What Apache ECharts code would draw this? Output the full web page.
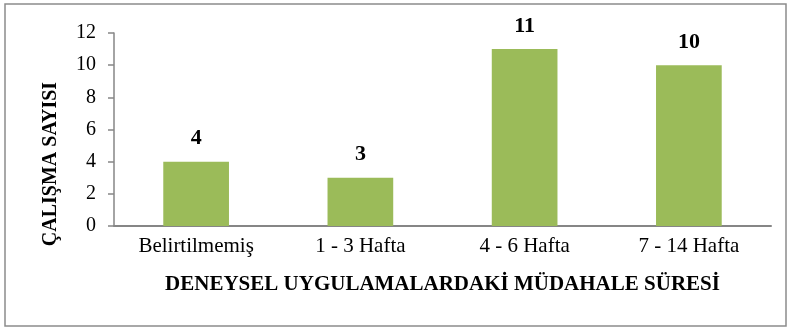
<!DOCTYPE html>
<html>
<head>
<meta charset="utf-8">
<script src="https://cdn.jsdelivr.net/npm/echarts@6/dist/echarts.min.js"></script>
<style>
  html, body { margin: 0; padding: 0; background: #fff; }
  #chart { width: 791px; height: 329px; }
</style>
</head>
<body>
<div id="chart"></div>
<script>
// Intervention duration groups and number of studies in each
const categories = ['Belirtilmemiş', '1 - 3 Hafta', '4 - 6 Hafta', '7 - 14 Hafta'];
const studyCounts = [4, 3, 11, 10];
const yTicks = { min: 0, max: 12, interval: 2 };
const xAxisTitle = 'DENEYSEL UYGULAMALARDAKİ MÜDAHALE SÜRESİ';
const yAxisTitle = 'ÇALIŞMA SAYISI';

const serif = '"Liberation Serif", "Times New Roman", serif';
const axisGray = '#868686';

const chart = echarts.init(document.getElementById('chart'), null, { renderer: 'canvas' });

chart.setOption({
  animation: false,
  backgroundColor: '#ffffff',
  grid: { left: 114, right: 20, top: 33, bottom: 103, containLabel: false },
  graphic: [
    {
      type: 'rect',
      shape: { x: 5, y: 4, width: 781, height: 322 },
      style: { fill: 'none', stroke: '#8c8c8c', lineWidth: 1.5 },
      silent: true
    },
    {
      type: 'text',
      x: 51,
      y: 164,
      rotation: Math.PI / 2,
      style: {
        text: yAxisTitle,
        fill: '#000',
        font: 'bold 20px ' + serif,
        align: 'center',
        verticalAlign: 'middle'
      },
      silent: true
    }
  ],
  xAxis: {
    type: 'category',
    data: categories,
    axisLine: { show: true, lineStyle: { color: axisGray, width: 2 } },
    axisTick: { show: false },
    axisLabel: { color: '#000', fontFamily: serif, fontSize: 21, margin: 10 },
    name: xAxisTitle,
    nameLocation: 'middle',
    nameGap: 48,
    nameTextStyle: { color: '#000', fontFamily: serif, fontSize: 21, fontWeight: 'bold' }
  },
  yAxis: {
    type: 'value',
    min: yTicks.min,
    max: yTicks.max,
    interval: yTicks.interval,
    axisLine: { show: true, lineStyle: { color: axisGray, width: 1.5 } },
    axisTick: { show: true, inside: false, length: 6, lineStyle: { color: axisGray, width: 1.5 } },
    axisLabel: { color: '#000', fontFamily: serif, fontSize: 20, margin: 18 },
    splitLine: { show: false }
  },
  series: [
    {
      type: 'bar',
      data: studyCounts,
      barWidth: '40%',
      itemStyle: { color: '#9BBB59' },
      label: {
        show: true,
        position: 'top',
        distance: 12,
        color: '#000',
        fontFamily: serif,
        fontSize: 22,
        fontWeight: 'bold'
      }
    }
  ]
});
</script>
</body>
</html>
